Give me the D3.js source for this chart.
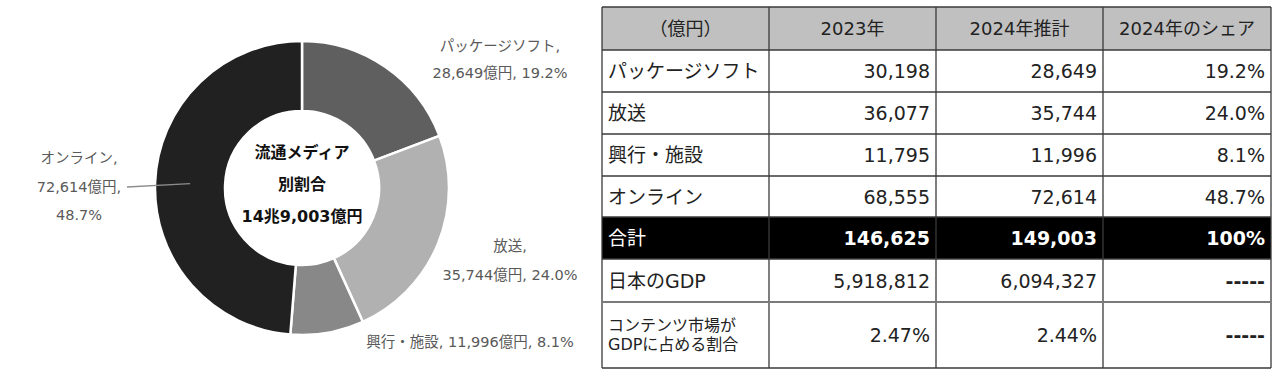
<!DOCTYPE html>
<html><head><meta charset="utf-8">
<script src="https://cdn.jsdelivr.net/npm/d3@7"></script>
<style>
html,body{margin:0;padding:0;background:#fff;}
svg{display:block;font-family:"DejaVu Sans","Noto Sans CJK JP",sans-serif;}
</style></head>
<body>
<svg id="c" width="1280" height="378"></svg>
<script>
// ---- data ----
const categories = ["パッケージソフト", "放送", "興行・施設", "オンライン"];
const values2024 = [28649, 35744, 11996, 72614];
const shares2024 = ["19.2%", "24.0%", "8.1%", "48.7%"];
const centerLines = ["流通メディア", "別割合", "14兆9,003億円"];

const headerLabels = ["（億円）", "2023年", "2024年推計", "2024年のシェア"];
const rowLabels = ["パッケージソフト", "放送", "興行・施設", "オンライン", "合計", "日本のGDP", "コンテンツ市場が\nGDPに占める割合"];
const col2023 = ["30,198", "36,077", "11,795", "68,555", "146,625", "5,918,812", "2.47%"];
const col2024 = ["28,649", "35,744", "11,996", "72,614", "149,003", "6,094,327", "2.44%"];
const colShare = ["19.2%", "24.0%", "8.1%", "48.7%", "100%", "-----", "-----"];

// ---- styles / layout ----
const sliceColors = ["#5f5f5f", "#b1b1b1", "#888888", "#212121"];
const svg = d3.select("#c");
const fmt = d3.format(",");

// donut
const cx = 302, cy = 188;
const pie = d3.pie().sort(null).value(d => d)(values2024);
const arc = d3.arc().innerRadius(77).outerRadius(147);
const g = svg.append("g").attr("transform", `translate(${cx},${cy})`);
g.selectAll("path").data(pie).join("path")
  .attr("d", arc)
  .attr("fill", (d, i) => sliceColors[i])
  .attr("stroke", "#fff").attr("stroke-width", 2.5);

// center text
g.selectAll("text.ct").data(centerLines).join("text").attr("class", "ct")
  .attr("x", 0).attr("y", (d, i) => -36 + i * 32)
  .attr("text-anchor", "middle").attr("dominant-baseline", "central")
  .attr("font-size", 16).attr("font-weight", "bold").attr("fill", "#111")
  .text(d => d);

// labels (layout per slice)
const labelLayout = [
  {x: 500, ys: [46, 73], lines: i => [categories[i] + ",", fmt(values2024[i]) + "億円, " + shares2024[i]]},
  {x: 510, ys: [246, 275], lines: i => [categories[i] + ",", fmt(values2024[i]) + "億円, " + shares2024[i]]},
  {x: 470, ys: [342], lines: i => [categories[i] + ", " + fmt(values2024[i]) + "億円, " + shares2024[i]]},
  {x: 79, ys: [158, 187, 215], lines: i => [categories[i] + ",", fmt(values2024[i]) + "億円,", shares2024[i]]}
];
labelLayout.forEach((L, i) => {
  L.lines(i).forEach((t, k) => {
    svg.append("text").attr("x", L.x).attr("y", L.ys[k])
      .attr("text-anchor", "middle").attr("dominant-baseline", "central")
      .attr("font-size", 14.5).attr("fill", "#595959").text(t);
  });
});
// leader line for online slice (ends at slice centroid)
const c3 = arc.centroid(pie[3]);
svg.append("line").attr("x1", 127).attr("y1", 187)
  .attr("x2", cx + c3[0]).attr("y2", cy + c3[1])
  .attr("stroke", "#8c8c8c").attr("stroke-width", 1.3);

// ---- table ----
const colEdges = [602, 769, 936, 1103, 1271];
const rowEdges = [7, 50, 92, 134, 176, 217, 259, 302, 368];
const tg = svg.append("g");
tg.append("rect").attr("x", colEdges[0]).attr("y", rowEdges[0])
  .attr("width", colEdges[4] - colEdges[0]).attr("height", rowEdges[1] - rowEdges[0]).attr("fill", "#c0c0c0");
tg.append("rect").attr("x", colEdges[0]).attr("y", rowEdges[5])
  .attr("width", colEdges[4] - colEdges[0]).attr("height", rowEdges[6] - rowEdges[5]).attr("fill", "#000");

headerLabels.forEach((t, j) => {
  tg.append("text").attr("x", (colEdges[j] + colEdges[j + 1]) / 2).attr("y", (rowEdges[0] + rowEdges[1]) / 2)
    .attr("text-anchor", "middle").attr("dominant-baseline", "central")
    .attr("font-size", 18).attr("fill", "#222").text(t);
});
const cols = [col2023, col2024, colShare];
rowLabels.forEach((lab, r) => {
  const y0 = rowEdges[r + 1], y1 = rowEdges[r + 2], ym = (y0 + y1) / 2;
  const isTotal = r === 4;
  const fill = isTotal ? "#fff" : "#222";
  const lines = lab.split("\n");
  const fs = lines.length > 1 ? 16 : 19;
  lines.forEach((ln, k) => {
    tg.append("text").attr("x", colEdges[0] + 6)
      .attr("y", ym + (k - (lines.length - 1) / 2) * 19)
      .attr("dominant-baseline", "central").attr("font-size", fs)
      .attr("fill", fill).text(ln);
  });
  cols.forEach((col, j) => {
    const v = col[r];
    const dash = v === "-----";
    tg.append("text").attr("x", colEdges[j + 2] - 6).attr("y", ym)
      .attr("text-anchor", "end").attr("dominant-baseline", "central")
      .attr("font-size", 19).attr("font-weight", isTotal || dash ? "bold" : "normal")
      .attr("fill", fill).text(v);
  });
});
colEdges.forEach(x => {
  tg.append("line").attr("x1", x).attr("x2", x).attr("y1", rowEdges[0]).attr("y2", rowEdges[8])
    .attr("stroke", "#3a3a3a").attr("stroke-width", 1.3);
});
rowEdges.forEach((y, i) => {
  tg.append("line").attr("x1", colEdges[0]).attr("x2", colEdges[4]).attr("y1", y).attr("y2", y)
    .attr("stroke", i === 7 ? "#7a7a7a" : "#3a3a3a").attr("stroke-width", i === 7 ? 2 : 1.3);
});
</script>
</body></html>
